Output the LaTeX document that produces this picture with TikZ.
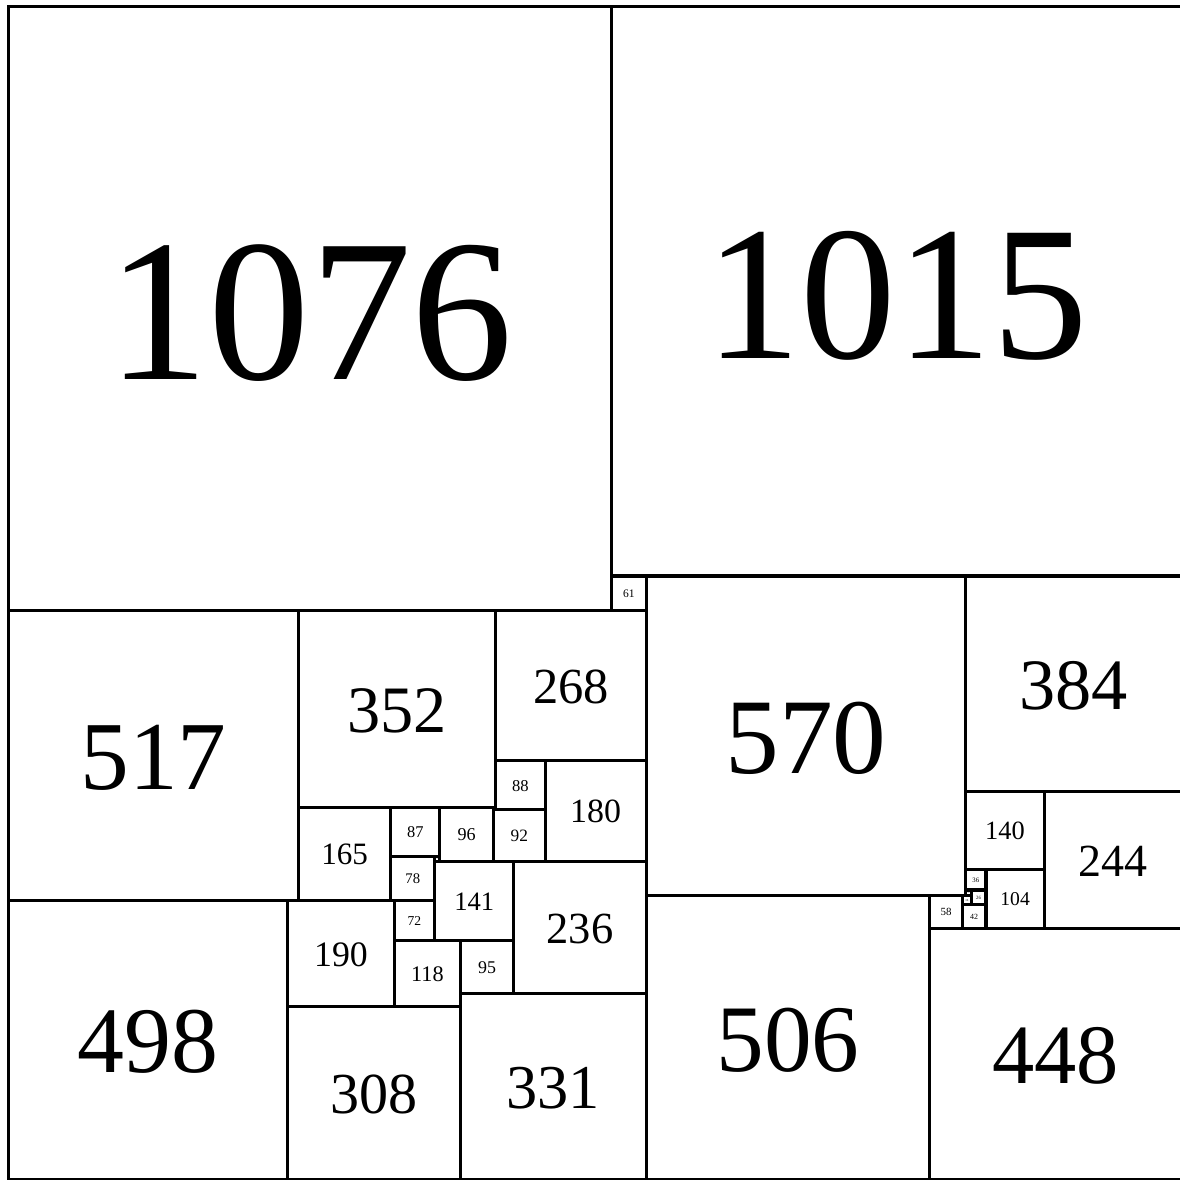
\documentclass[tikz,border=0pt]{standalone}
\usepackage{fontspec}
\setmainfont{Liberation Serif}
\tikzset{
  sqline/.style={draw=black, line width=2.8pt, line join=miter},
  sqlabel/.style={inner sep=0pt, anchor=center}
}
\newcommand\sqbox[4]{% name, x, y, size
  \draw[sqline] (#2,#3) rectangle ++(#4,#4);
  \pgfmathsetmacro\fsz{0.168*#4}
  \node[sqlabel, font=\fontsize{\fsz pt}{\fsz pt}\selectfont] (#1) at ({#2+#4/2},{#3+#4*0.508}) {#4};
}
\begin{document}
\begin{tikzpicture}[x=0.5pt,y=-0.5pt]
\useasboundingbox (-15,-12) rectangle (2089,2092);
\fill[white] (-15,-12) rectangle (2089,2092);
\sqbox{s1076}{0}{0}{1076}
\sqbox{s1015}{1076}{0}{1015}
\sqbox{s61}{1076}{1015}{61}
\sqbox{s517}{0}{1076}{517}
\sqbox{s498}{0}{1593}{498}
\sqbox{s352}{517}{1076}{352}
\sqbox{s268}{869}{1076}{268}
\sqbox{s570}{1137}{1015}{570}
\sqbox{s384}{1707}{1015}{384}
\sqbox{s180}{957}{1344}{180}
\sqbox{s88}{869}{1344}{88}
\sqbox{s92}{865}{1432}{92}
\sqbox{s96}{769}{1428}{96}
\sqbox{s87}{682}{1428}{87}
\sqbox{s165}{517}{1428}{165}
\sqbox{s78}{682}{1515}{78}
\sqbox{s9}{760}{1515}{9}
\sqbox{s141}{760}{1524}{141}
\sqbox{s236}{901}{1524}{236}
\sqbox{s190}{498}{1593}{190}
\sqbox{s72}{688}{1593}{72}
\sqbox{s118}{688}{1665}{118}
\sqbox{s95}{806}{1665}{95}
\sqbox{s331}{806}{1760}{331}
\sqbox{s308}{498}{1783}{308}
\sqbox{s506}{1137}{1585}{506}
\sqbox{s448}{1643}{1643}{448}
\sqbox{s58}{1643}{1585}{58}
\sqbox{s42}{1701}{1601}{42}
\sqbox{s16}{1701}{1585}{16}
\sqbox{s10}{1707}{1575}{10}
\sqbox{s26}{1717}{1575}{26}
\sqbox{s36}{1707}{1539}{36}
\sqbox{s140}{1707}{1399}{140}
\sqbox{s104}{1743}{1539}{104}
\sqbox{s244}{1847}{1399}{244}
\end{tikzpicture}
\end{document}
